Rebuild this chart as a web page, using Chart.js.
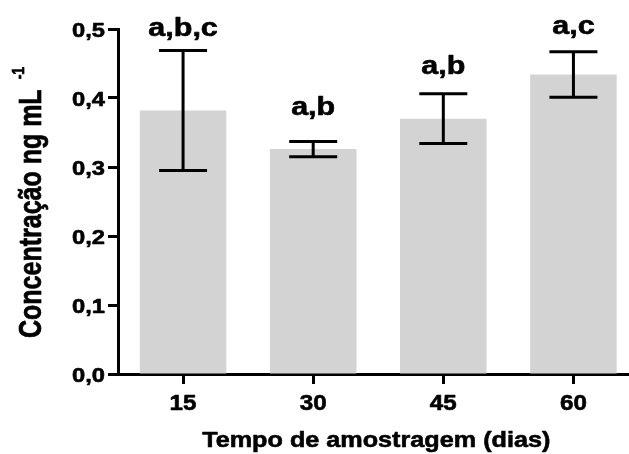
<!DOCTYPE html>
<html>
<head>
<meta charset="utf-8">
<script src="https://cdn.jsdelivr.net/npm/chart.js@4.4.1/dist/chart.umd.min.js"></script>
<style>
  html, body { margin: 0; padding: 0; background: #fff; overflow: hidden; }
  #wrap { width: 640px; height: 454px; }
</style>
</head>
<body>
<div id="wrap"><canvas id="c" width="640" height="454"></canvas></div>
<script>
// Sampling days (x categories)
const days = ['15', '30', '45', '60'];
// Mean concentration (ng mL-1) per sampling day
const meanConc = [0.382, 0.326, 0.370, 0.434];
// Error bar half-length (same units)
const errConc = [0.087, 0.011, 0.036, 0.033];
// Statistical group letters over each bar
const groupLetters = ['a,b,c', 'a,b', 'a,b', 'a,c'];
// Y tick labels with decimal comma
const yTickLabels = ['0,0', '0,1', '0,2', '0,3', '0,4', '0,5'];
// Axis titles
const xTitle = 'Tempo de amostragem (dias)';
const yTitle = 'Concentração ng mL';
const yTitleExp = '-1';

const FONT = '"Liberation Sans", Arial, Helvetica, sans-serif';
const EMBOLDEN = 0.6;

// Heavy text: fill plus a thin outline of the same colour
function heavyText(ctx, text, x, y) {
  ctx.fillText(text, x, y);
  ctx.strokeText(text, x, y);
}

// Bold text drawn with a horizontally widened face
function wideText(ctx, text, x, y, size, sx, align, baseline) {
  ctx.save();
  ctx.translate(x, y);
  ctx.scale(sx, 1);
  ctx.font = 'bold ' + size + 'px ' + FONT;
  ctx.fillStyle = '#000';
  ctx.strokeStyle = '#000';
  ctx.lineWidth = EMBOLDEN;
  ctx.lineJoin = 'round';
  ctx.textAlign = align;
  ctx.textBaseline = baseline;
  ctx.letterSpacing = '0px';
  heavyText(ctx, text, 0, 0);
  ctx.restore();
}

// Error bars and group letters
const errorBarPlugin = {
  id: 'errorBars',
  afterDatasetsDraw(chart, args, opts) {
    const ctx = chart.ctx;
    const y = chart.scales.y;
    const meta = chart.getDatasetMeta(0);
    ctx.save();
    meta.data.forEach((bar, i) => {
      const x = bar.x;
      const hi = y.getPixelForValue(meanConc[i] + errConc[i]);
      const lo = y.getPixelForValue(meanConc[i] - errConc[i]);
      const half = opts.capWidth / 2;
      ctx.strokeStyle = '#000';
      ctx.lineWidth = opts.lineWidth;
      ctx.lineCap = 'butt';
      ctx.beginPath();
      ctx.moveTo(x, hi); ctx.lineTo(x, lo);
      ctx.moveTo(x - half, hi); ctx.lineTo(x + half, hi);
      ctx.moveTo(x - half, lo); ctx.lineTo(x + half, lo);
      ctx.stroke();
      wideText(ctx, groupLetters[i], x, hi - opts.labelGap[i], 25, 1.22, 'center', 'alphabetic');
    });
    ctx.restore();
  }
};

// Tick labels and axis titles placed from the chart's scales
const axisTextPlugin = {
  id: 'axisText',
  afterDraw(chart, args, opts) {
    const ctx = chart.ctx;
    const xs = chart.scales.x;
    const ys = chart.scales.y;
    const area = chart.chartArea;

    xs.ticks.forEach((t, i) => {
      wideText(ctx, days[i], xs.getPixelForTick(i), area.bottom + 36, 22, 1.1, 'center', 'alphabetic');
    });
    ys.ticks.forEach((t, i) => {
      wideText(ctx, yTickLabels[i], ys.left + ys.width - 13, ys.getPixelForTick(i) + 7.5, 21, 1.13, 'right', 'alphabetic');
    });

    wideText(ctx, xTitle, (area.left + area.right) / 2 - 2, area.bottom + 73, 22.5, 1.12, 'center', 'alphabetic');

    // rotated y title with superscript exponent
    ctx.save();
    ctx.translate(opts.yTitleX, area.bottom - 36);
    ctx.scale(1.22, 1);
    ctx.rotate(-Math.PI / 2);
    ctx.fillStyle = '#000';
    ctx.strokeStyle = '#000';
    ctx.lineWidth = EMBOLDEN;
    ctx.lineJoin = 'round';
    ctx.letterSpacing = '0px';
    ctx.textAlign = 'left';
    ctx.textBaseline = 'alphabetic';
    ctx.font = 'bold 25px ' + FONT;
    heavyText(ctx, yTitle, 0, 0);
    const w = ctx.measureText(yTitle).width;
    ctx.font = 'bold 14px ' + FONT;
    heavyText(ctx, yTitleExp, w + 10, -14);
    ctx.restore();
  }
};

new Chart(document.getElementById('c'), {
  type: 'bar',
  data: {
    labels: days,
    datasets: [{
      data: meanConc,
      backgroundColor: '#d3d3d3',
      borderWidth: 0,
      barPercentage: 0.665,
      categoryPercentage: 1.0
    }]
  },
  options: {
    responsive: false,
    animation: false,
    devicePixelRatio: 1,
    layout: { padding: { top: 29, right: 1.5, bottom: 0, left: 0 } },
    plugins: {
      legend: { display: false },
      tooltip: { enabled: false },
      errorBars: { lineWidth: 3, capWidth: 48, labelGap: [14, 26, 20, 18] },
      axisText: { yTitleX: 41 }
    },
    scales: {
      x: {
        offset: true,
        afterFit(scale) { scale.height = 80; },
        grid: {
          offset: false,
          drawOnChartArea: false,
          drawTicks: true,
          tickLength: 10,
          tickWidth: 3,
          tickColor: '#000'
        },
        border: { display: true, color: '#000', width: 3 },
        ticks: { display: false }
      },
      y: {
        min: 0,
        max: 0.5,
        afterFit(scale) { scale.width = 118; },
        grid: {
          drawOnChartArea: false,
          drawTicks: true,
          tickLength: 10,
          tickWidth: 3,
          tickColor: '#000'
        },
        border: { display: true, color: '#000', width: 3 },
        ticks: { display: false, stepSize: 0.1 }
      }
    }
  },
  plugins: [errorBarPlugin, axisTextPlugin]
});
</script>
</body>
</html>
